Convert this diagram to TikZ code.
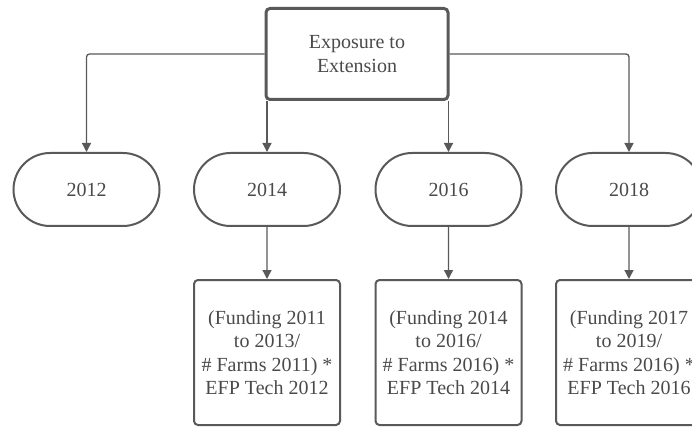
\documentclass[tikz,border=0pt]{standalone}
\usepackage{fontspec}
\setmainfont{Liberation Serif}
\usetikzlibrary{arrows.meta,shapes.misc}
\definecolor{edge}{HTML}{595959}
\definecolor{ink}{HTML}{4A4A4A}
\begin{document}
\begin{tikzpicture}[x=1pt,y=-1pt,
  every node/.style={text=ink,font=\fontsize{20}{23.5}\selectfont,align=center,inner sep=0pt},
  topbox/.style={draw=edge,line width=3pt,rounded corners=4pt,minimum width=182pt,minimum height=91pt},
  yearpill/.style={draw=edge,line width=2pt,rounded rectangle,minimum width=146pt,minimum height=73pt},
  calcbox/.style={draw=edge,line width=2pt,rounded corners=4pt,minimum width=146pt,minimum height=145pt},
  link/.style={draw=edge,line width=1.3pt,rounded corners=3pt,-{Triangle[width=9pt,length=9pt]}}]
\useasboundingbox (0,0) rectangle (692,427);
\node[topbox] (top) at (357,54) {Exposure to\\Extension};
\node[yearpill] (y12) at (86.5,189.5) {2012};
\node[yearpill] (y14) at (267,189.5) {2014};
\node[yearpill] (y16) at (448.5,189.5) {2016};
\node[yearpill] (y18) at (629,189.5) {2018};
\node[calcbox] (c14) at (267,352.5) {(Funding 2011\\to 2013/\\\# Farms 2011) *\\EFP Tech 2012};
\node[calcbox] (c16) at (448.5,352.5) {(Funding 2014\\to 2016/\\\# Farms 2016) *\\EFP Tech 2014};
\node[calcbox] (c18) at (629,352.5) {(Funding 2017\\to 2019/\\\# Farms 2016) *\\EFP Tech 2016};
\path[link] (top.west) -| (y12.north);
\path[link] (top.east) -| (y18.north);
\path[link] (top.south west -| y14.north) -- (y14.north);
\path[link] (top.south east -| y16.north) -- (y16.north);
\path[link] (y14) -- (c14);
\path[link] (y16) -- (c16);
\path[link] (y18) -- (c18);
\end{tikzpicture}
\end{document}
